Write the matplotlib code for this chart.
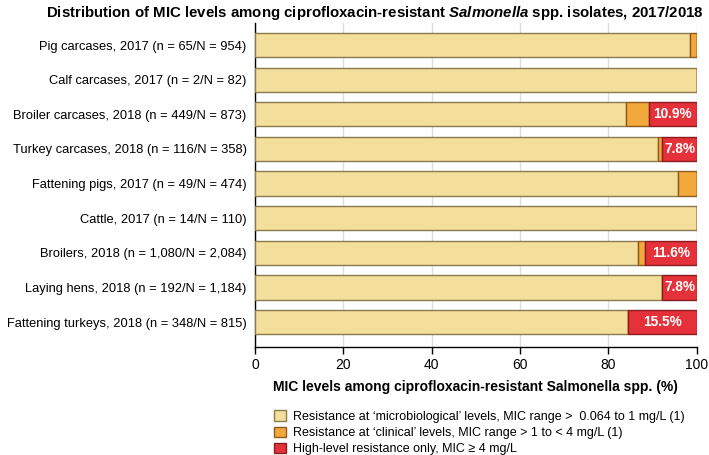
import matplotlib
matplotlib.use('Agg')
import matplotlib.pyplot as plt
from matplotlib.patches import Patch
import numpy as np

plt.rcParams['font.family'] = ['Liberation Sans', 'DejaVu Sans']
plt.rcParams['mathtext.fontset'] = 'custom'
plt.rcParams['mathtext.it'] = 'Liberation Sans:italic:bold'
plt.rcParams['mathtext.rm'] = 'Liberation Sans:bold'

categories = [
    'Pig carcases, 2017 (n = 65/N = 954)',
    'Calf carcases, 2017 (n = 2/N = 82)',
    'Broiler carcases, 2018 (n = 449/N = 873)',
    'Turkey carcases, 2018 (n = 116/N = 358)',
    'Fattening pigs, 2017 (n = 49/N = 474)',
    'Cattle, 2017 (n = 14/N = 110)',
    'Broilers, 2018 (n = 1,080/N = 2,084)',
    'Laying hens, 2018 (n = 192/N = 1,184)',
    'Fattening turkeys, 2018 (n = 348/N = 815)',
]
micro = [98.5, 100.0, 84.0, 91.2, 95.8, 100.0, 86.7, 92.2, 84.5]
clinical = [1.5, 0.0, 5.1, 1.0, 4.2, 0.0, 1.7, 0.0, 0.0]
high = [0.0, 0.0, 10.9, 7.8, 0.0, 0.0, 11.6, 7.8, 15.5]

legend_labels = [
    "Resistance at \u2018microbiological\u2019 levels, MIC range > \u00a00.064 to 1 mg/L (1)",
    "Resistance at \u2018clinical\u2019 levels, MIC range > 1 to < 4 mg/L (1)",
    "High-level resistance only, MIC \u2265 4 mg/L",
]

c_micro, e_micro = '#F3DE9C', '#8C7A4C'
c_clin, e_clin = '#F3A83C', '#8E5A1C'
c_high, e_high = '#E5323A', '#8A1C20'

fig = plt.figure(figsize=(7.09, 4.55), dpi=100)
ax = fig.add_axes([0.3597, 0.2374, 0.6229, 0.7121])

y = np.arange(len(categories))
h = 0.70
micro = np.array(micro)
clinical = np.array(clinical)
high = np.array(high)

ax.barh(y, micro, height=h, color=c_micro, edgecolor=e_micro, linewidth=1, zorder=3)
ax.barh(y, clinical, left=micro, height=h, color=c_clin, edgecolor=e_clin, linewidth=1, zorder=3)
ax.barh(y, high, left=micro + clinical, height=h, color=c_high, edgecolor=e_high, linewidth=1, zorder=3)

for i, v in enumerate(high):
    if v > 0:
        ax.text(micro[i] + clinical[i] + v / 2, i, f'{v:.1f}%', ha='center', va='center',
                color='white', fontsize=9.8, fontweight='bold', zorder=4)

ax.set_xlim(0, 100)
ax.set_ylim(8.72, -0.64)
ax.set_yticks(y)
ax.set_yticklabels(categories, fontsize=9.3)
ax.tick_params(axis='y', length=0, pad=6)
ax.set_xticks([0, 20, 40, 60, 80, 100])
ax.tick_params(axis='x', labelsize=10, length=5, width=1, direction='out', pad=3)
ax.grid(axis='x', color='#dddddd', linewidth=1, zorder=0)
ax.spines['top'].set_visible(False)
ax.spines['right'].set_visible(False)
ax.spines['left'].set_linewidth(1)
ax.spines['bottom'].set_linewidth(1)

ax.set_xlabel('MIC levels among ciprofloxacin-resistant Salmonella spp. (%)',
              fontsize=10, fontweight='bold', labelpad=6)

fig.text(0.528, 0.972,
         'Distribution of MIC levels among ciprofloxacin-resistant $\\mathit{Salmonella}$ spp. isolates, 2017/2018',
         ha='center', va='center', fontsize=10.8, fontweight='bold')

handles = [Patch(facecolor=c_micro, edgecolor=e_micro),
           Patch(facecolor=c_clin, edgecolor=e_clin),
           Patch(facecolor=c_high, edgecolor=e_high)]
fig.legend(handles, legend_labels, loc='upper left', bbox_to_anchor=(0.378, 0.112),
           frameon=False, fontsize=9, handlelength=0.9, handleheight=0.9,
           handletextpad=0.6, labelspacing=0.3, borderpad=0)

fig.savefig('out.png', dpi=100)
